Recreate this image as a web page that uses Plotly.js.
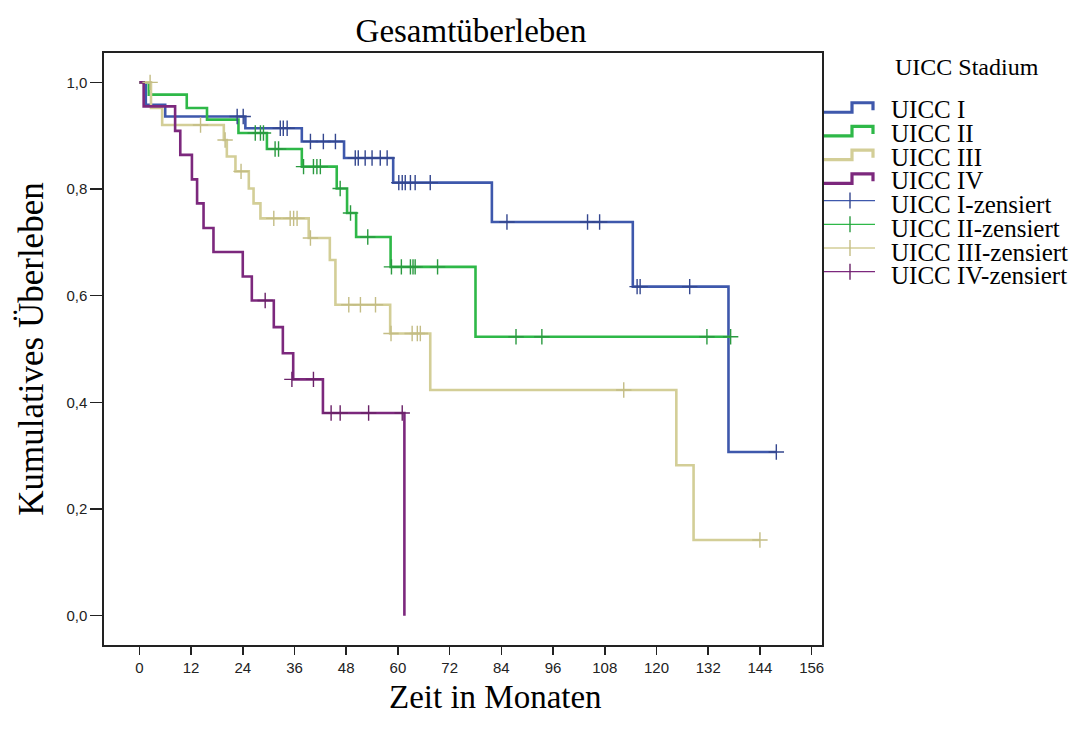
<!DOCTYPE html>
<html>
<head>
<meta charset="utf-8">
<script src="https://cdn.plot.ly/plotly-3.0.1.min.js"></script>
<style>html,body{margin:0;padding:0;background:#fff;}#chart{width:1091px;height:729px;}</style>
</head>
<body>
<div id="chart"></div>
<script>
// ---- Data ----
const stageNames = ['UICC I', 'UICC II', 'UICC III', 'UICC IV'];
const censorNames = ['UICC I-zensiert', 'UICC II-zensiert', 'UICC III-zensiert', 'UICC IV-zensiert'];
const legendTitle = 'UICC Stadium';
const xAxisTitle = 'Zeit in Monaten';
const xTicks = [0, 12, 24, 36, 48, 60, 72, 84, 96, 108, 120, 132, 144, 156];
const yTicks = [0, 0.2, 0.4, 0.6, 0.8, 1.0];

// UICC I
const timeI = [0, 1.5, 6, 24.6, 37.7, 47.5, 58.9, 81.8, 114.5, 136.7, 147.8];
const survI = [1, 0.958, 0.936, 0.914, 0.889, 0.858, 0.812, 0.738, 0.617, 0.307, 0.307];
const censTimeI = [22.7, 24.1, 32.7, 33.4, 34.3, 39.7, 42.7, 45.5, 50.1, 50.8, 52.4, 54.0, 55.9, 57.5, 60.2, 61.0, 61.7, 62.9, 64.0, 67.5, 85.3, 104.0, 106.8, 115.5, 116.2, 127.7, 147.8];
const censSurvI = [0.936, 0.936, 0.914, 0.914, 0.914, 0.889, 0.889, 0.889, 0.858, 0.858, 0.858, 0.858, 0.858, 0.858, 0.812, 0.812, 0.812, 0.812, 0.812, 0.812, 0.738, 0.738, 0.738, 0.617, 0.617, 0.617, 0.307];

// UICC II
const timeII = [0, 2.2, 11, 15.7, 23, 29.6, 37.7, 45.8, 48.2, 50.3, 58.3, 78, 137.2];
const survII = [1, 0.977, 0.952, 0.930, 0.905, 0.875, 0.842, 0.801, 0.755, 0.710, 0.654, 0.523, 0.523];
const censTimeII = [26.9, 28.1, 28.8, 31.5, 32.3, 38.1, 40.4, 41.2, 42.0, 46.6, 49.0, 53.0, 58.5, 60.8, 62.9, 63.5, 64.0, 69.2, 87.4, 93.4, 131.7, 137.2];
const censSurvII = [0.905, 0.905, 0.905, 0.875, 0.875, 0.842, 0.842, 0.842, 0.842, 0.801, 0.755, 0.710, 0.654, 0.654, 0.654, 0.654, 0.654, 0.654, 0.523, 0.523, 0.523, 0.523];

// UICC III
const timeIII = [0, 2.7, 5.3, 19.6, 20.3, 22.3, 25.4, 26.5, 28.1, 39.3, 44.2, 45.5, 58.2, 67.5, 124.6, 128.6, 144];
const survIII = [1, 0.952, 0.920, 0.892, 0.861, 0.833, 0.801, 0.773, 0.745, 0.708, 0.667, 0.583, 0.529, 0.423, 0.282, 0.142, 0.142];
const censTimeIII = [2.5, 14.2, 19.9, 23.6, 31.2, 35.0, 35.8, 36.6, 39.7, 48.6, 51.3, 54.8, 58.4, 63.3, 64.5, 65.2, 112.4, 144];
const censSurvIII = [1.0, 0.920, 0.892, 0.833, 0.745, 0.745, 0.745, 0.745, 0.708, 0.583, 0.583, 0.583, 0.529, 0.529, 0.529, 0.529, 0.423, 0.142];

// UICC IV
const timeIV = [0, 1.0, 8.3, 9.5, 12.2, 13.4, 14.9, 17.2, 24.0, 26.1, 31.2, 33.3, 35.7, 42.6, 61.5];
const survIV = [1, 0.955, 0.909, 0.864, 0.818, 0.773, 0.727, 0.682, 0.636, 0.591, 0.541, 0.492, 0.443, 0.380, 0];
const censTimeIV = [29.2, 35.4, 40.4, 44.5, 46.6, 53.2, 61.0];
const censSurvIV = [0.591, 0.443, 0.443, 0.380, 0.380, 0.380, 0.380];

// ---- Styling ----
const colors = ['#3E58AC', '#2EB848', '#D3CE97', '#7C287D'];
const censColors = ['#34478f', '#2a9a40', '#c4bd85', '#6a2268'];
const serif = '"Liberation Serif", "Times New Roman", serif';
const sans = '"Liberation Sans", Arial, sans-serif';

const series = [
  [timeI, survI, censTimeI, censSurvI],
  [timeII, survII, censTimeII, censSurvII],
  [timeIII, survIII, censTimeIII, censSurvIII],
  [timeIV, survIV, censTimeIV, censSurvIV]
];

const traces = [];
series.forEach((s, i) => {
  traces.push({
    x: s[0], y: s[1], type: 'scatter', mode: 'lines', name: stageNames[i],
    line: {shape: 'hv', color: colors[i], width: 2.6}, showlegend: false, hoverinfo: 'skip'
  });
});
series.forEach((s, i) => {
  traces.push({
    x: s[2], y: s[3], type: 'scatter', mode: 'markers', name: censorNames[i],
    marker: {symbol: 'cross-thin-open', size: 11, color: censColors[i], line: {color: censColors[i], width: 1.4}},
    showlegend: false, hoverinfo: 'skip'
  });
});

// ---- Manual SPSS-style legend ----
const L = 104, R = 822, T = 53.3, B = 645;
const px = x => (x - L) / (R - L);
const py = y => (B - y) / (B - T);
const shapes = [];
const annotations = [];
annotations.push({
  xref: 'paper', yref: 'paper', x: px(893), y: py(67), xanchor: 'left', yanchor: 'middle',
  text: legendTitle, showarrow: false, font: {family: serif, size: 24, color: '#000'}
});
const rowGap = 23.7;
stageNames.forEach((n, i) => {
  const yc = 110 + rowGap * i;
  shapes.push({
    type: 'path', xref: 'paper', yref: 'paper',
    path: `M ${px(824)},${py(yc + 2.5)} L ${px(852)},${py(yc + 2.5)} L ${px(852)},${py(yc - 7)} L ${px(873)},${py(yc - 7)} L ${px(873)},${py(yc + 0.5)}`,
    line: {color: colors[i], width: 3.2}
  });
  annotations.push({
    xref: 'paper', yref: 'paper', x: px(889), y: py(yc), xanchor: 'left', yanchor: 'middle',
    text: n, showarrow: false, font: {family: serif, size: 25, color: '#000'}
  });
});
censorNames.forEach((n, i) => {
  const yc = 110 + rowGap * (i + 4);
  shapes.push({
    type: 'line', xref: 'paper', yref: 'paper', x0: px(824), x1: px(875), y0: py(yc - 4), y1: py(yc - 4),
    line: {color: colors[i], width: 1.3}
  });
  shapes.push({
    type: 'line', xref: 'paper', yref: 'paper', x0: px(850), x1: px(850), y0: py(yc - 12), y1: py(yc + 4),
    line: {color: censColors[i], width: 1.4}
  });
  annotations.push({
    xref: 'paper', yref: 'paper', x: px(889), y: py(yc), xanchor: 'left', yanchor: 'middle',
    text: n, showarrow: false, font: {family: serif, size: 25, color: '#000'}
  });
});
// x-axis title (placed as in the reference, slightly right of centre)
annotations.push({
  xref: 'paper', yref: 'paper', x: px(495), y: py(697), xanchor: 'center', yanchor: 'middle',
  text: xAxisTitle, showarrow: false, font: {family: serif, size: 33, color: '#000'}
});

const layout = {
  width: 1091, height: 729,
  margin: {l: L, r: 1091 - R, t: T, b: 729 - B, pad: 0},
  paper_bgcolor: '#fff', plot_bgcolor: '#fff',
  separators: ',.',
  showlegend: false,
  title: {text: 'Gesamtüberleben', x: 471 / 1091, xref: 'container', xanchor: 'center', y: 1 - 30 / 729, yref: 'container', yanchor: 'middle',
    font: {family: serif, size: 33, color: '#000'}},
  xaxis: {
    range: [-8.2, 158.4], tickvals: xTicks, ticks: 'outside', ticklen: 8, tickwidth: 1.5, tickcolor: '#222',
    showline: true, linecolor: '#222', linewidth: 1.6, mirror: true, showgrid: false, zeroline: false,
    tickfont: {family: sans, size: 15, color: '#222'}
  },
  yaxis: {
    range: [-0.055, 1.055], tickvals: yTicks, tickformat: '.1f', ticks: 'outside', ticklen: 12, tickwidth: 1.5, tickcolor: '#222',
    showline: true, linecolor: '#222', linewidth: 1.6, mirror: true, showgrid: false, zeroline: false,
    tickfont: {family: sans, size: 15, color: '#222'},
    title: {text: 'Kumulatives Überleben', font: {family: serif, size: 35, color: '#000'}, standoff: 12}
  },
  shapes: shapes,
  annotations: annotations
};

Plotly.newPlot('chart', traces, layout, {displayModeBar: false, staticPlot: true});
</script>
</body>
</html>
